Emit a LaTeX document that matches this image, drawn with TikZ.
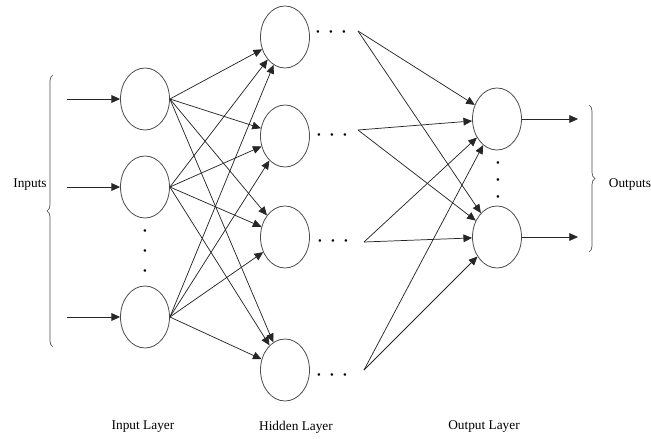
\documentclass[tikz,border=0pt]{standalone}
\usepackage{fontspec}
\setmainfont{Liberation Serif}
\usetikzlibrary{arrows.meta,positioning,shapes.geometric,decorations.pathreplacing}

\tikzset{
    neuron/.style={draw=black!70, ellipse, line width=0.6pt, minimum width=36.75pt, minimum height=46.5pt, inner sep=0pt},
    link/.style={-{Triangle[length=6.5pt,width=5.8pt]}, line width=0.55pt, color=black!85},
    dotrow/.style={font=\footnotesize, inner sep=0pt},
    dotcol/.style={font=\footnotesize, inner sep=0pt, align=center},
    bracefig/.style={decorate, decoration={brace, amplitude=4.5pt}, line width=0.5pt, color=black!70},
}

\begin{document}
\begin{tikzpicture}[x=0.75pt,y=-0.75pt]
\useasboundingbox (0,0) rectangle (651,439);

\node [neuron] (in1) at (145,99) {};
\node [neuron] (in2) at (145,187) {};
\node [neuron] (in3) at (145,317) {};
\node [dotcol] (inDots) at (145,252) {\textbullet\\[5.5pt]\textbullet\\[5.5pt]\textbullet};

\node [neuron] (hid1) at (285,37) {};
\node [neuron] (hid2) at (285,136) {};
\node [neuron] (hid3) at (285,237) {};
\node [neuron] (hid4) at (285,370) {};

\node [dotrow] (hidDots1) at (331,33) {\textbullet\hspace{7pt}\textbullet\hspace{7pt}\textbullet};
\node [dotrow] (hidDots2) at (332,136) {\textbullet\hspace{7pt}\textbullet\hspace{7pt}\textbullet};
\node [dotrow] (hidDots3) at (333,242) {\textbullet\hspace{7pt}\textbullet\hspace{7pt}\textbullet};
\node [dotrow] (hidDots4) at (332,376) {\textbullet\hspace{7pt}\textbullet\hspace{7pt}\textbullet};

\node [neuron] (out1) at (497,119) {};
\node [neuron] (out2) at (497,237) {};
\node [dotcol] (outDots) at (498,181) {\textbullet\\[3.5pt]\textbullet\\[3.5pt]\textbullet};

\coordinate (x1) at (67,99);
\coordinate (x2) at (67,187);
\coordinate (x3) at (67,317);
\coordinate (y1) at (578,119);
\coordinate (y2) at (578,237);
\coordinate (hid1r) at (358,31);
\coordinate (hid2r) at (358,130);
\coordinate (hid3r) at (364,242);
\coordinate (hid4r) at (364,370);

\draw [link] (x1) -- (in1);
\draw [link] (x2) -- (in2);
\draw [link] (x3) -- (in3);

\draw [link] (in1.east) -- (hid1);
\draw [link] (in1.east) -- (hid2);
\draw [link] (in1.east) -- (hid3);
\draw [link] (in1.east) -- (hid4);
\draw [link] (in2.east) -- (hid1);
\draw [link] (in2.east) -- (hid2);
\draw [link] (in2.east) -- (hid3);
\draw [link] (in2.east) -- (hid4);
\draw [link] (in3.east) -- (hid1);
\draw [link] (in3.east) -- (hid2);
\draw [link] (in3.east) -- (hid3);
\draw [link] (in3.east) -- (hid4);

\draw [link] (hid1r) -- (out1);
\draw [link] (hid1r) -- (out2);
\draw [link] (hid2r) -- (out1);
\draw [link] (hid2r) -- (out2);
\draw [link] (hid3r) -- (out1);
\draw [link] (hid3r) -- (out2);
\draw [link] (hid4r) -- (out1);
\draw [link] (hid4r) -- (out2);

\draw [link] (out1) -- (y1);
\draw [link] (out2) -- (y2);

\draw [bracefig] (53,347) -- (53,75);
\draw [bracefig] (589,105) -- (589,252);

\node (inputsLabel) at (30,185) {Inputs};
\node (outputsLabel) at (630,185) {Outputs};

\node (inLayer) at (143,427) {Input Layer};
\node (hidLayer) at (296,427) {Hidden Layer};
\node (outLayer) at (484,427) {Output Layer};

\end{tikzpicture}
\end{document}
